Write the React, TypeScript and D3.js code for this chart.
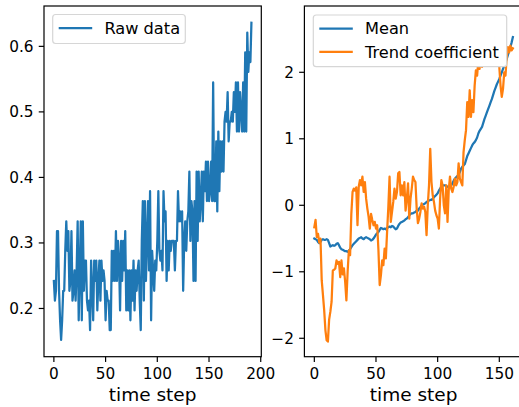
import React from "react";
import * as d3 from "d3";

const rawData: number[] = [
  0.242, 0.212, 0.227, 0.318, 0.318, 0.227, 0.182, 0.152, 0.182, 0.227, 0.227,
  0.288, 0.333, 0.288, 0.318, 0.227, 0.242, 0.318, 0.212, 0.227, 0.258,
  0.212, 0.258, 0.333, 0.182, 0.258, 0.333, 0.182, 0.333, 0.227, 0.273,
  0.273, 0.212, 0.197, 0.212, 0.167, 0.273, 0.227, 0.182, 0.273, 0.242,
  0.273, 0.197, 0.242, 0.273, 0.212, 0.273, 0.242, 0.258, 0.242, 0.182,
  0.227, 0.212, 0.212, 0.167, 0.167, 0.288, 0.242, 0.288, 0.242, 0.318,
  0.242, 0.303, 0.273, 0.197, 0.303, 0.242, 0.303, 0.258, 0.318, 0.197,
  0.258, 0.197, 0.258, 0.182, 0.258, 0.212, 0.273, 0.197, 0.258, 0.227,
  0.258, 0.273, 0.212, 0.167, 0.303, 0.364, 0.212, 0.364, 0.242, 0.303,
  0.364, 0.258, 0.379, 0.182, 0.288, 0.258, 0.227, 0.273, 0.258, 0.303,
  0.379, 0.288, 0.273, 0.288, 0.258, 0.379, 0.333, 0.348, 0.242, 0.303,
  0.258, 0.303, 0.288, 0.303, 0.303, 0.303, 0.258, 0.303, 0.303, 0.379,
  0.333, 0.348, 0.333, 0.348, 0.227, 0.303, 0.333, 0.288, 0.333, 0.348,
  0.409, 0.303, 0.364, 0.348, 0.242, 0.364, 0.242, 0.409, 0.303, 0.409,
  0.333, 0.364, 0.409, 0.333, 0.409, 0.379, 0.424, 0.364, 0.424, 0.364,
  0.379, 0.424, 0.364, 0.545, 0.364, 0.364, 0.455, 0.348, 0.470, 0.379,
  0.455, 0.409, 0.455, 0.409, 0.485, 0.500, 0.485, 0.530, 0.455, 0.485,
  0.485, 0.500, 0.485, 0.530, 0.500, 0.545, 0.470, 0.545, 0.470, 0.530,
  0.500, 0.470, 0.545, 0.470, 0.591, 0.470, 0.621, 0.561, 0.591, 0.576, 0.636,
];

const meanData: number[] = [
  -0.50, -0.51, -0.52, -0.55, -0.57, -0.55, -0.52, -0.51, -0.52, -0.52,
  -0.51, -0.52, -0.57, -0.62, -0.61, -0.60, -0.61, -0.60, -0.58, -0.57,
  -0.60, -0.64, -0.66, -0.67, -0.68, -0.69, -0.69, -0.70, -0.68, -0.66,
  -0.63, -0.60, -0.58, -0.56, -0.54, -0.52, -0.50, -0.49, -0.48, -0.50,
  -0.51, -0.49, -0.48, -0.49, -0.50, -0.51, -0.53, -0.52, -0.50, -0.47,
  -0.44, -0.42, -0.40, -0.37, -0.34, -0.35, -0.36, -0.35, -0.36, -0.34,
  -0.33, -0.32, -0.33, -0.31, -0.32, -0.34, -0.36, -0.35, -0.31, -0.28,
  -0.26, -0.25, -0.24, -0.23, -0.21, -0.20, -0.18, -0.15, -0.13, -0.12,
  -0.12, -0.11, -0.10, -0.08, -0.08, -0.05, -0.03, 0.00, 0.01, 0.02,
  0.03, 0.05, 0.06, 0.07, 0.08, 0.08, 0.10, 0.12, 0.14, 0.16,
  0.18, 0.22, 0.25, 0.28, 0.30, 0.30, 0.30, 0.29, 0.28, 0.27,
  0.28, 0.30, 0.33, 0.37, 0.40, 0.42, 0.44, 0.46, 0.50, 0.55,
  0.58, 0.60, 0.62, 0.68, 0.74, 0.78, 0.82, 0.86, 0.90, 0.93,
  0.95, 0.98, 1.02, 1.08, 1.12, 1.15, 1.18, 1.24, 1.30, 1.35,
  1.40, 1.45, 1.50, 1.55, 1.60, 1.66, 1.72, 1.77, 1.82, 1.86,
  1.90, 1.95, 2.00, 2.05, 2.10, 2.15, 2.20, 2.26, 2.32, 2.38,
  2.45, 2.53,
];

const trendData: number[] = [
  -0.33, -0.22, -0.48, -0.43, -0.56, -0.50, -1.13, -1.35, -1.58, -1.88,
  -2.03, -2.05, -1.72, -1.60, -1.45, -0.98, -0.97, -0.95, -0.83, -0.88,
  -0.85, -1.08, -0.83, -1.04, -0.95, -1.15, -1.43, -1.00, -0.68, -0.75,
  -0.13, 0.20, 0.25, 0.22, 0.27, -0.30, 0.28, 0.38, 0.30, 0.43,
  0.20, 0.35, 0.10, -0.05, -0.17, -0.35, -0.13, -0.22, -0.30, -0.25,
  -0.35, -0.30, -0.68, -1.20, -1.05, -0.83, -0.90, -0.65, -0.80, -0.40,
  -0.03, 0.43, -0.25, -0.10, 0.05, 0.25, 0.10, 0.20, 0.48, 0.50,
  0.15, 0.30, 0.15, 0.35, -0.08, 0.10, 0.33, -0.20, 0.10, 0.25,
  0.43, 0.38, 0.35, -0.05, -0.27, -0.20, -0.10, 0.03, -0.05, -0.02,
  -0.10, -0.45, 0.00, 0.30, 0.85, 0.35, 0.15, 0.05, -0.08, -0.15,
  -0.20, -0.35, 0.10, 0.38, 0.30, 0.00, -0.12, 0.30, -0.25, 0.23,
  0.43, 0.25, 0.20, 0.28, 0.40, 0.30, 0.35, 0.63, 0.40, 0.35,
  0.30, 0.80, 0.98, 1.13, 1.55, 1.33, 1.73, 1.33, 1.58, 1.40,
  1.80, 2.03, 1.95, 2.18, 2.05, 2.30, 2.08, 2.35, 2.60, 2.76,
  2.55, 2.40, 2.60, 2.45, 2.30, 2.50, 2.35, 2.20, 2.30, 2.15,
  2.08, 1.80, 1.63, 1.75, 2.00, 1.95, 2.23, 2.38, 2.30, 2.40,
  2.33, 2.36,
];

const leftXTicks = [0, 50, 100, 150, 200];
const leftYTicks = [0.2, 0.3, 0.4, 0.5, 0.6];
const rightXTicks = [0, 50, 100, 150];
const rightYTicks = [-2, -1, 0, 1, 2];

const BLUE = "#1f77b4";
const ORANGE = "#ff7f0e";
const FONT = "DejaVu Sans, sans-serif";
const TOP = 6;
const BOTTOM = 356.7;
const TICK = 5.25;

function fmtY(v: number, decimals: number) {
  const s = v.toFixed(decimals);
  return s.replace("-", "\u2212");
}

function Axes(props: {
  id: string;
  left: number;
  right: number;
  x: d3.ScaleLinear<number, number>;
  y: d3.ScaleLinear<number, number>;
  xTicks: number[];
  yTicks: number[];
  yDecimals: number;
  series: { data: number[]; color: string }[];
  legend: { label: string; color: string }[];
  legendBox: { x: number; y: number; w: number; h: number };
}) {
  const { id, left, right, x, y, xTicks, yTicks, series, legend, legendBox } = props;
  const line = (data: number[]) =>
    d3
      .line<number>()
      .x((_, i) => x(i))
      .y((d) => y(d))(data) || "";
  return (
    <g>
      <defs>
        <clipPath id={id}>
          <rect x={left} y={TOP} width={right - left} height={BOTTOM - TOP} />
        </clipPath>
      </defs>
      <g clipPath={`url(#${id})`}>
        {series.map((s, k) => (
          <path
            key={k}
            d={line(s.data)}
            fill="none"
            stroke={s.color}
            strokeWidth={2.25}
            strokeLinejoin="round"
            strokeLinecap="square"
          />
        ))}
      </g>
      <rect
        x={left}
        y={TOP}
        width={right - left}
        height={BOTTOM - TOP}
        fill="none"
        stroke="#000"
        strokeWidth={1.2}
      />
      {xTicks.map((t) => (
        <g key={"x" + t}>
          <line x1={x(t)} x2={x(t)} y1={BOTTOM} y2={BOTTOM + TICK} stroke="#000" strokeWidth={1.2} />
          <text x={x(t)} y={379} textAnchor="middle" fontSize={15.3} fontFamily={FONT} fill="#000">
            {t}
          </text>
        </g>
      ))}
      {yTicks.map((t) => (
        <g key={"y" + t}>
          <line x1={left - TICK} x2={left} y1={y(t)} y2={y(t)} stroke="#000" strokeWidth={1.2} />
          <text
            x={left - 10.5}
            y={y(t)}
            dy="0.36em"
            textAnchor="end"
            fontSize={15.3}
            fontFamily={FONT}
            fill="#000"
          >
            {fmtY(t, props.yDecimals)}
          </text>
        </g>
      ))}
      <text
        x={(left + right) / 2}
        y={401}
        textAnchor="middle"
        fontSize={18.5}
        fontFamily={FONT}
        fill="#000"
      >
        time step
      </text>
      <rect
        x={legendBox.x}
        y={legendBox.y}
        width={legendBox.w}
        height={legendBox.h}
        rx={3}
        fill="#fff"
        stroke="#d6d6d6"
        strokeWidth={1.2}
      />
      {legend.map((l, k) => {
        const cy = legendBox.y + 13.5 + k * 23.3;
        return (
          <g key={l.label}>
            <line
              x1={legendBox.x + 6}
              x2={legendBox.x + 39.5}
              y1={cy}
              y2={cy}
              stroke={l.color}
              strokeWidth={2.25}
            />
            <text
              x={legendBox.x + 51.7}
              y={cy}
              dy="0.36em"
              fontSize={16.2}
              fontFamily={FONT}
              fill="#000"
            >
              {l.label}
            </text>
          </g>
        );
      })}
    </g>
  );
}

export default function App() {
  const lx = d3.scaleLinear().domain([-9.55, 200.55]).range([44, 261.3]);
  const ly = d3.scaleLinear().domain([0.1264, 0.6616]).range([BOTTOM, TOP]);
  const rx = d3.scaleLinear().domain([-8.05, 169.05]).range([304.4, 522.8]);
  const ry = d3.scaleLinear().domain([-2.277, 2.997]).range([BOTTOM, TOP]);

  return (
    <svg
      width={519}
      height={407}
      style={{ position: "absolute", left: 0, top: 0, background: "#fff" }}
    >
      <rect width={519} height={407} fill="#fff" />
      <Axes
        id="clipL"
        left={44}
        right={261.3}
        x={lx}
        y={ly}
        xTicks={leftXTicks}
        yTicks={leftYTicks}
        yDecimals={1}
        series={[{ data: rawData, color: BLUE }]}
        legend={[{ label: "Raw data", color: BLUE }]}
        legendBox={{ x: 52.7, y: 14.5, w: 132.6, h: 29 }}
      />
      <Axes
        id="clipR"
        left={304.4}
        right={522.8}
        x={rx}
        y={ry}
        xTicks={rightXTicks}
        yTicks={rightYTicks}
        yDecimals={0}
        series={[
          { data: meanData, color: BLUE },
          { data: trendData, color: ORANGE },
        ]}
        legend={[
          { label: "Mean", color: BLUE },
          { label: "Trend coefficient", color: ORANGE },
        ]}
        legendBox={{ x: 313.3, y: 15, w: 193.4, h: 51.7 }}
      />
    </svg>
  );
}
